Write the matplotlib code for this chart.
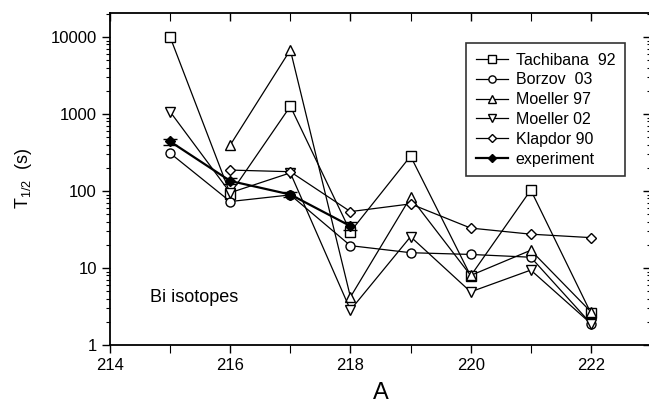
import numpy as np
import matplotlib
matplotlib.use("Agg")
import matplotlib.pyplot as plt
from matplotlib.ticker import FixedLocator, LogLocator, NullFormatter, FuncFormatter

plt.rcParams["font.family"] = ["Liberation Sans", "DejaVu Sans"]
plt.rcParams["mathtext.default"] = "regular"

# ---------- data ----------
mass = [215, 216, 217, 218, 219, 220, 221, 222]

tachibana_92 = [10000, 92, 1260, 29.6, 284, 7.9, 103, 2.6]
borzov_03 = [310, 73, 89, 19.5, 15.8, 15.0, 13.8, 1.9]
moeller_97_A = [216, 217, 218, 219, 220, 221, 222]
moeller_97 = [395, 6800, 4.2, 83, 8.0, 17, 2.7]
moeller_02 = [1070, 95, 172, 2.85, 25.5, 4.9, 9.4, 1.9]
klapdor_90_A = [216, 217, 218, 219, 220, 221, 222]
klapdor_90 = [187, 178, 54, 68, 33, 27.5, 24.8]
exp_A = [215, 216, 217, 218]
exp_T = [440, 135, 90, 35]
exp_err = [40, 12, 6, 4]

# ---------- figure ----------
fig = plt.figure(figsize=(6.49, 4.08), dpi=100)
# right spine sits just past the image edge, as in the original
ax = fig.add_axes([110 / 649, 1 - 345 / 408, 541 / 649, 332.5 / 408])

style = dict(color="black", lw=0.9, mfc="white", mec="black", mew=1.0, ms=6.5)
ax.plot(mass, tachibana_92, marker="s", label="Tachibana  92", **style)
ax.plot(mass, borzov_03, marker="o", label="Borzov  03", **style)
ax.plot(moeller_97_A, moeller_97, marker="^", label="Moeller 97", **style)
ax.plot(mass, moeller_02, marker="v", label="Moeller 02", **style)
ax.plot(klapdor_90_A, klapdor_90, marker="D", label="Klapdor 90",
        **{**style, "ms": 5.5})
ax.errorbar(exp_A, exp_T, yerr=exp_err, fmt="none", ecolor="black",
            capsize=5, elinewidth=1.0, capthick=1.0, zorder=5)
ax.plot(exp_A, exp_T, color="black", lw=1.6, marker="D", ms=5.5,
        mfc="black", mec="black", label="experiment", zorder=6)

ax.set_yscale("log")
ax.set_xlim(214, 223)
ax.set_ylim(1, 10 ** (4 + 24.5 / 77))

# ticks
ax.xaxis.set_major_locator(FixedLocator([214, 216, 218, 220, 222]))
ax.xaxis.set_minor_locator(FixedLocator([215, 217, 219, 221]))
ax.yaxis.set_major_locator(FixedLocator([1, 10, 100, 1000, 10000]))
ax.yaxis.set_minor_locator(LogLocator(base=10, subs=np.arange(2, 10)))
ax.yaxis.set_major_formatter(FuncFormatter(lambda v, p: f"{int(round(v))}"))
ax.yaxis.set_minor_formatter(NullFormatter())

ax.tick_params(axis="both", which="major", length=6, width=1.0, labelsize=12)
ax.tick_params(axis="both", which="minor", length=3, width=0.8)
ax.tick_params(axis="x", which="both", top=True, direction="out")
ax.tick_params(axis="y", which="both", right=True, direction="out")
ax.tick_params(axis="x", which="minor", length=6)
# top / right ticks point inwards
for t in ax.xaxis.get_major_ticks() + ax.xaxis.get_minor_ticks():
    t.tick2line.set_marker(3)
for t in ax.yaxis.get_major_ticks() + ax.yaxis.get_minor_ticks():
    t.tick2line.set_marker(0)
for sp in ax.spines.values():
    sp.set_linewidth(1.3)

ax.set_xlabel("A", fontsize=17, labelpad=6)
ax.set_ylabel("T$_{1/2}$  (s)", fontsize=13, labelpad=12)

ax.text(214.67, 4.2, "Bi isotopes", fontsize=13, va="center", ha="left")

leg = ax.legend(loc="upper left", bbox_to_anchor=(356 / 541, 302 / 332.5),
                borderaxespad=0, fontsize=11.5, handlelength=2.0,
                handletextpad=0.5, labelspacing=0.3, frameon=True,
                fancybox=False, edgecolor="black", markerscale=0.8,
                borderpad=0.6)
leg.get_frame().set_linewidth(1.2)

fig.savefig("out.png", dpi=100)
